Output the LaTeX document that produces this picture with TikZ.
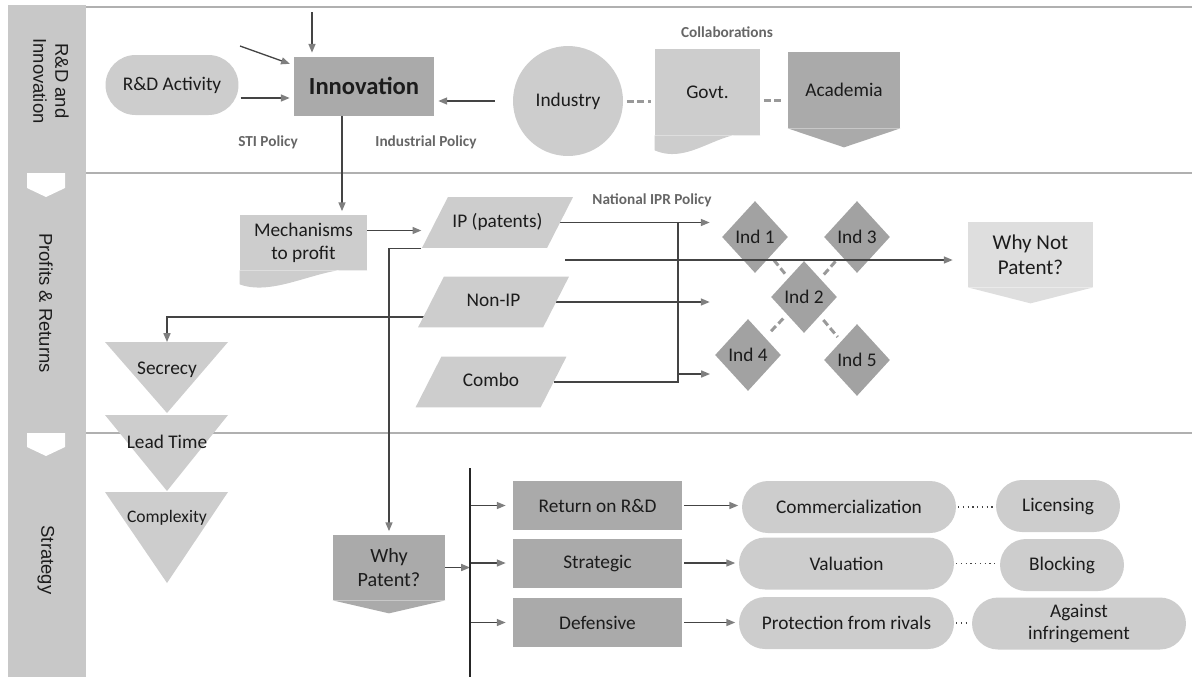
\documentclass[tikz,border=0pt]{standalone}
\usepackage{fontspec}
\setmainfont{Carlito}
\newfontfamily\lanefont{Liberation Sans}
\usetikzlibrary{arrows.meta,shapes.geometric,shapes.misc,calc}

\definecolor{lanegray}{HTML}{C8C8C8}
\definecolor{lightfill}{HTML}{CDCDCD}
\definecolor{darkfill}{HTML}{AAAAAA}
\definecolor{indfill}{HTML}{A2A2A2}
\definecolor{palefill}{HTML}{DEDEDE}
\definecolor{inkgray}{HTML}{1C1C1C}
\definecolor{notegray}{HTML}{666666}
\definecolor{linegray}{HTML}{444444}
\definecolor{tipgray}{HTML}{7F7F7F}
\definecolor{dashgray}{HTML}{999999}
\definecolor{rulegray}{HTML}{B0B0B0}

\pgfdeclarelayer{bg}
\pgfsetlayers{bg,main}

\tikzset{
  txt/.style={text=inkgray, align=center, inner sep=0pt, font=\fontsize{11}{13}\selectfont},
  lanetxt/.style={text=inkgray, align=center, rotate=-90, font=\lanefont\fontsize{10.5}{12.5}\selectfont},
  note/.style={text=notegray, font=\fontsize{8.7}{10}\selectfont\bfseries},
  pill/.style={txt, rounded rectangle, fill=lightfill, minimum height=1.04cm},
  darkbox/.style={txt, rectangle, fill=darkfill},
  docbody/.style={txt, rectangle, fill=lightfill},
  para/.style={txt, trapezium, trapezium left angle=63, trapezium right angle=117,
    trapezium stretches body, fill=lightfill, text height=8pt, text depth=2.5pt,
    inner ysep=9.2pt, minimum width=3.02cm},
  indbox/.style={txt, diamond, fill=indfill, minimum width=1.32cm, minimum height=1.44cm},
  wire/.style={draw=linegray, line width=0.75pt},
  arr/.style={wire, -{Triangle[length=5pt, width=4pt, color=tipgray]}},
  collab/.style={draw=dashgray, line width=1.7pt, dash pattern=on 4pt off 2pt},
  dotlink/.style={draw=linegray, line width=0.7pt, dash pattern=on 0.7pt off 2pt},
  lanerule/.style={draw=rulegray, line width=0.9pt},
}

\begin{document}
\begin{tikzpicture}[x=0.02cm, y=-0.02cm]
    \useasboundingbox (0,0) rectangle (1192,677);

    % Swim lanes
    \begin{pgfonlayer}{bg}
    \fill[lanegray] (8,5) rectangle (86,677);
    \foreach \yy in {7,173,433}
        \draw[lanerule] (86,\yy) -- (1192,\yy);
    \foreach \yy/\tp in {173/197,433/456}
        \fill[white] (27,\yy) -- (65,\yy) -- (65,{\tp-9}) -- (46,\tp) -- (27,{\tp-9}) -- cycle;
    \end{pgfonlayer}
    \node[lanetxt] (lanerd) at (51,81) {R\&D and\\Innovation};
    \node[lanetxt] (laneprofit) at (46,303) {Profits \& Returns};
    \node[lanetxt] (lanestrat) at (46,560) {Strategy};

    % R&D and Innovation
    \node[pill, minimum width=2.66cm, minimum height=1.2cm] (rd) at (172,85) {R\&D Activity};
    \node[darkbox, minimum width=2.82cm, minimum height=1.18cm,
          font=\fontsize{14}{16}\selectfont\bfseries] (innov) at (364,86) {Innovation};
    \node[note] (sti) at (268,142) {STI Policy};
    \node[note] (indpol) at (426,142) {Industrial Policy};
    \node[txt, circle, fill=lightfill, minimum size=2.2cm] (industry) at (568,101) {Industry};
    \node[docbody, minimum width=2.1cm, minimum height=1.72cm] (govt) at (707.5,92) {Govt.};
    \fill[lightfill] (govt.south east) .. controls +(-38,-11) and +(37,16) .. ([yshift=-0.3cm]govt.south west)
        -- (govt.south west) -- cycle;
    \node[darkbox, minimum width=2.24cm, minimum height=1.52cm] (acad) at (844,90) {Academia};
    \fill[darkfill] (acad.south west) -- (acad.south east) -- ([yshift=-0.38cm]acad.south) -- cycle;
    \node[note] (collabs) at (727,32) {Collaborations};
    \coordinate (topfeed) at (312,12);
    \coordinate (stifeed) at (240,46);
    \coordinate (innovdrop) at ($(innov.south)+(-22,0)$);

    % Profits & Returns
    \node[docbody, minimum width=2.54cm, minimum height=1.1cm] (mech) at (303.5,242.5) {Mechanisms\\to profit};
    \fill[lightfill] (mech.south east) .. controls +(-40,-9) and +(38,14) .. ([yshift=-0.28cm]mech.south west)
        -- (mech.south west) -- cycle;
    \node[para] (ip) at (497.5,222.5) {IP (patents)};
    \node[para] (nonip) at (493.5,302) {Non-IP};
    \node[para] (combo) at (491,382) {Combo};
    \node[note] (natipr) at (652,200) {National IPR Policy};

    \foreach \nm/\px/\py/\lbl in {ind1/755/237/Ind 1, ind3/857/237/Ind 3, ind2/804/297/Ind 2,
                                  ind4/748/355/Ind 4, ind5/857/360/Ind 5}
        \node[indbox] (\nm) at (\px,\py) {\lbl};

    \node[docbody, fill=palefill, minimum width=2.5cm, minimum height=1.3cm,
          font=\fontsize{12}{14}\selectfont] (whynot) at (1030.5,254.5) {Why Not\\Patent?};
    \fill[palefill] (whynot.south west) -- (whynot.south east) -- ([yshift=-0.32cm]whynot.south) -- cycle;

    \foreach \nm/\tp/\tip/\ty/\fs/\lbl in {secrecy/342/413/370/11/Secrecy, leadtime/415/491/442/11/Lead Time,
                                          complexity/492/583/518/10/Complexity} {
        \fill[lightfill] (105,\tp) -- (228,\tp) -- (167,\tip) -- cycle;
        \node[txt, font=\fontsize{\fs}{13}\selectfont] (\nm) at (167,\ty) {\lbl};
    }
    \coordinate (sectop) at (167,342);
    \coordinate (trunk) at (678,0);
    \coordinate (wnstart) at (565,260);
    \draw[arr, shorten >=0.3cm] (wnstart) -- (wnstart -| whynot.west);

    % Strategy
    \node[darkbox, minimum width=2.24cm, minimum height=1.3cm,
          font=\fontsize{11.5}{14}\selectfont] (whyp) at (389,567.5) {Why\\Patent?};
    \fill[darkfill] (whyp.south west) -- (whyp.south east) -- ([yshift=-0.26cm]whyp.south) -- cycle;
    \coordinate (bartop) at (470,468);
    \coordinate (barbot) at (470,677);
    \draw[draw=black!85, line width=1.1pt] (bartop) -- (barbot);

    \foreach \nm/\py/\lbl in {ret/505.5/Return on R\&D, strat/563/Strategic, def/622.5/Defensive}
        \node[darkbox, minimum width=3.38cm, minimum height=0.98cm] (\nm) at (597.5,\py) {\lbl};

    \node[pill, minimum width=4.28cm] (comm) at (849,507) {Commercialization};
    \node[pill, minimum width=4.3cm] (val) at (846.5,563.5) {Valuation};
    \node[pill, minimum width=4.3cm] (prot) at (846.5,623) {Protection from rivals};
    \node[pill, minimum width=2.48cm] (lic) at (1058,506) {Licensing};
    \node[pill, minimum width=2.48cm] (block) at (1062,565) {Blocking};
    \node[pill, minimum width=4.28cm] (against) at (1079,623.5) {Against\\infringement};

    % Connectors
    \begin{pgfonlayer}{bg}
    \draw[arr, shorten >=2pt] (topfeed) -- (topfeed |- innov.north);
    \draw[arr, shorten >=2pt] (stifeed) -- ($(innov.west)+(0,-21)$);
    \draw[arr, shorten <=1pt, shorten >=2pt] ($(rd.east)+(0,13)$) -- ($(rd.east -| innov.west)+(0,13)$);
    \draw[arr, shorten >=2pt] ($(industry.west)+(-18,0)$) -- (industry.west -| innov.east);
    \draw[collab, shorten <=2pt, shorten >=2pt] (industry.east) -- (industry.east -| govt.west);
    \draw[collab, shorten <=2pt, shorten >=2pt] ($(govt.east)+(0,8)$) -- ($(govt.east -| acad.west)+(0,8)$);

    \draw[arr, shorten >=2pt] (innovdrop) -- (innovdrop |- mech.north);
    \draw[arr] ($(mech.east)+(0,-12)$) -- ++(54,0);
    \draw[wire] (ip.east) -- (ip.east -| trunk) -- (combo.east -| trunk) -- (combo.east);
    \draw[arr, shorten >=0.24cm] (ip.east -| trunk) -- (ip.east -| ind1.west);
    \draw[arr, shorten >=0.24cm] (nonip.east) -- (nonip.east -| ind1.west);
    \draw[arr] ($(combo.east -| trunk)+(0,-8)$) -- ++(32,0);
    \foreach \k in {ind1,ind3,ind4,ind5}
        \draw[collab, shorten <=3pt, shorten >=3pt] (ind2) -- (\k);
    \draw[arr] ($(nonip.west)+(0,15)$) -| (sectop);
    \draw[arr, shorten >=2pt] (ip.bottom left corner) -| (whyp.north);

    \draw[arr] (whyp.east) -- (whyp.east -| bartop);
    \foreach \nm in {ret,strat,def}
        \draw[arr, shorten >=4pt] (bartop |- \nm.west) -- (\nm.west);
    \draw[arr, shorten <=1pt, shorten >=2pt] (ret.east) -- (ret.east -| comm.west);
    \draw[arr, shorten <=1pt, shorten >=2pt] (strat.east) -- (strat.east -| val.west);
    \draw[arr, shorten <=1pt, shorten >=2pt] (def.east) -- (def.east -| prot.west);
    \draw[dotlink, shorten <=1pt, shorten >=1pt] (comm.east) -- (comm.east -| lic.west);
    \draw[dotlink, shorten <=1pt, shorten >=1pt] (val.east) -- (val.east -| block.west);
    \draw[dotlink, shorten <=1pt, shorten >=1pt] (prot.east) -- (prot.east -| against.west);
    \end{pgfonlayer}
\end{tikzpicture}
\end{document}
